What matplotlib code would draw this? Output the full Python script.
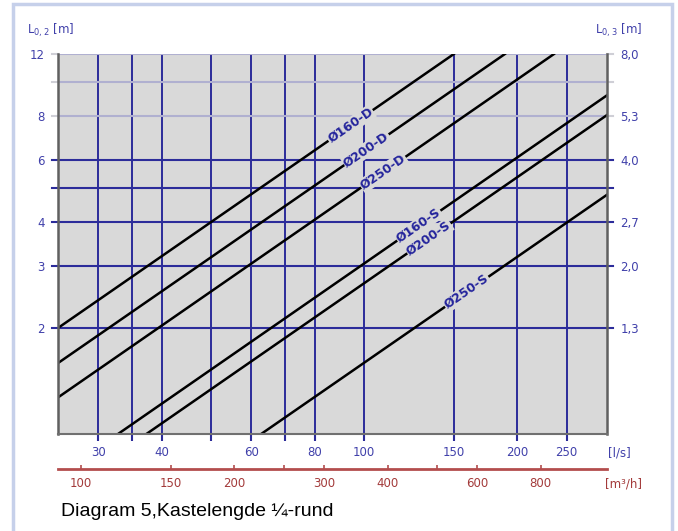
import numpy as np
import matplotlib.pyplot as plt
from matplotlib.patches import Rectangle
from matplotlib.ticker import NullLocator

# curves: name, (flow [l/s], length L0,2 [m]) at both ends
names = ['Ø160-D', 'Ø200-D', 'Ø250-D', 'Ø160-S', 'Ø200-S', 'Ø250-S']
q_start = [25, 25, 25, 32.8, 37.3, 62.7]
l_start = [2.0, 1.59, 1.27, 1.0, 1.0, 1.0]
q_end = [150, 189, 236, 300, 300, 300]
l_end = [12, 12, 12, 9.16, 8.05, 4.78]
# flow where each name is written on its curve
q_label = [94, 101, 109, 128, 134, 159]

q_ticks = [30, 35, 40, 50, 60, 70, 80, 100, 150, 200, 250]
q_labels = ['30', '', '40', '', '60', '', '80', '100', '150', '200', '250']
l_ticks = [2, 3, 4, 5, 6, 8, 10, 12]
l_labels = ['2', '3', '4', '', '6', '8', '', '12']
l03_labels = ['1,3', '2,0', '2,7', '', '4,0', '5,3', '', '8,0']
m3h_ticks = [100, 150, 200, 250, 300, 400, 500, 600, 800]
m3h_labels = ['100', '150', '200', '', '300', '400', '', '600', '800']

navy = '#2c2c9a'
lavender = '#b0b0d0'
light = '#cfcfd6'
blue_txt = '#4040aa'
red = '#b34d4d'
red_txt = '#a33a3a'
spine = '#606060'
bg = '#d9d9d9'

plt.rcParams['font.family'] = 'DejaVu Sans'
W, H = 678, 531
fig = plt.figure(figsize=(W / 100, H / 100), dpi=100)

# frame around the whole diagram
fig.patches.append(Rectangle((13 / W, -0.02), 659 / W, 1.02 - 4 / H,
                             transform=fig.transFigure, fill=False,
                             edgecolor='#c6d0ea', lw=2.5))

x0, x1, y0, y1 = 58, 607, 54, 434
ax = fig.add_axes([x0 / W, 1 - y1 / H, (x1 - x0) / W, (y1 - y0) / H])
ax.set_facecolor(bg)
ax.set_xscale('log')
ax.set_yscale('log')
ax.set_xlim(25, 300)
ax.set_ylim(1, 12)
ax.set_axisbelow(True)

ax.xaxis.set_minor_locator(NullLocator())
ax.yaxis.set_minor_locator(NullLocator())
ax.set_xticks(q_ticks, q_labels)
ax.set_yticks(l_ticks, l_labels)
ax.tick_params(axis='x', length=5, width=1.5, color=navy, pad=4,
               labelsize=8.5, labelcolor=blue_txt)
ax.tick_params(axis='y', length=0, pad=9.5, labelsize=8.5,
               labelcolor=blue_txt)
ax.grid(axis='x', color=navy, lw=1.4)

# horizontal lines, running a little past both frame sides
ext = 6 / (x1 - x0)
for v in l_ticks:
    c = navy if v <= 6 else lavender
    ax.plot([0, 1], [v, v], color=c, lw=1.5, zorder=0.6,
            transform=ax.get_yaxis_transform())
    for xs in ([-ext, 0], [1, 1 + ext]):
        ax.plot(xs, [v, v], color=navy if v <= 6 else light, lw=1.5,
                transform=ax.get_yaxis_transform(), clip_on=False)

for s in ['left', 'right']:
    ax.spines[s].set_color(spine)
    ax.spines[s].set_linewidth(1.8)
ax.spines['bottom'].set_color('#707070')
ax.spines['bottom'].set_linewidth(1.5)
ax.spines['top'].set_visible(False)

# right hand scale, L0,3
ax_r = ax.twinx()
ax_r.set_yscale('log')
ax_r.set_ylim(ax.get_ylim())
ax_r.yaxis.set_minor_locator(NullLocator())
ax_r.set_yticks(l_ticks, l03_labels)
ax_r.tick_params(axis='y', length=0, pad=9.5, labelsize=8.5,
                 labelcolor=blue_txt)
for s in ['left', 'top', 'bottom', 'right']:
    ax_r.spines[s].set_visible(False)

# curves with their names written along them
for n, qa, la, qb, lb, ql in zip(names, q_start, l_start, q_end, l_end, q_label):
    ax.plot([qa, qb], [la, lb], color='black', lw=1.8, zorder=2)
    ll = np.exp(np.interp(np.log(ql), np.log([qa, qb]), np.log([la, lb])))
    pa = ax.transData.transform((qa, la))
    pb = ax.transData.transform((qb, lb))
    ang = np.degrees(np.arctan2(pb[1] - pa[1], pb[0] - pa[0]))
    ax.text(ql, ll, n, rotation=ang, rotation_mode='anchor',
            ha='center', va='center', fontsize=9, fontweight='bold',
            color='#24249c', zorder=4,
            bbox=dict(facecolor=bg, edgecolor='none', pad=0.6))

# second flow scale in m³/h
ax_m = ax.secondary_xaxis((y1 - 469) / (y1 - y0),
                          functions=(lambda q: q * 3.6, lambda m: m / 3.6))
ax_m.xaxis.set_minor_locator(NullLocator())
ax_m.set_xticks(m3h_ticks, m3h_labels)
ax_m.tick_params(axis='x', direction='in', length=3, width=1.2, color=red,
                 pad=6, labelsize=8.5, labelcolor=red_txt)
ax_m.spines['bottom'].set_color(red)
ax_m.spines['bottom'].set_linewidth(2)

fig.text(27 / W, 1 - 30 / H, r'L$_{\mathregular{0,2}}$ [m]', color=blue_txt,
         fontsize=8.5, va='center')
fig.text(595 / W, 1 - 30 / H, r'L$_{\mathregular{0,3}}$ [m]', color=blue_txt,
         fontsize=8.5, va='center')
fig.text(608 / W, 1 - 453 / H, '[l/s]', color=blue_txt, fontsize=8.5,
         va='center')
fig.text(605 / W, 1 - 484 / H, '[m³/h]', color=red_txt, fontsize=8.5,
         va='center')
fig.text(61 / W, 1 - 512 / H, 'Diagram 5,Kastelengde ¼-rund',
         family='Liberation Sans', fontsize=14, va='center')

fig.savefig('out.png', dpi=100)
